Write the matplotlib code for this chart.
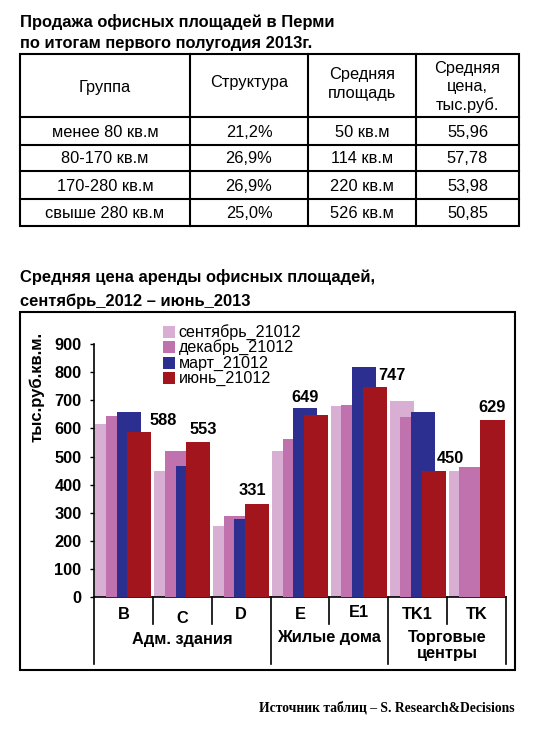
import numpy as np
import matplotlib
matplotlib.use("Agg")
import matplotlib.pyplot as plt
from matplotlib.patches import Rectangle

plt.rcParams['font.family'] = ['Liberation Sans', 'DejaVu Sans']

# ---------------- data ----------------
table_title = ["Продажа офисных площадей в Перми", "по итогам первого полугодия 2013г."]
table_headers = ["Группа", "Структура", "Средняя\nплощадь", "Средняя\nцена,\nтыс.руб."]
table_groups = ["менее 80 кв.м", "80-170 кв.м", "170-280 кв.м", "свыше 280 кв.м"]
table_structure = ["21,2%", "26,9%", "26,9%", "25,0%"]
table_area = ["50 кв.м", "114 кв.м", "220 кв.м", "526 кв.м"]
table_price = ["55,96", "57,78", "53,98", "50,85"]

chart_title = ["Средняя цена аренды офисных площадей,", "сентябрь_2012 – июнь_2013"]
categories = ["B", "C", "D", "E", "E1", "TK1", "TK"]
groups = ["Адм. здания", "Жилые дома", "Торговые\nцентры"]
series_labels = ["сентябрь_21012", "декабрь_21012", "март_21012", "июнь_21012"]
sept = [615, 450, 253, 520, 679, 698, 448]
dec = [645, 520, 288, 561, 682, 640, 463]
mar = [659, 465, 279, 673, 819, 660, np.nan]
jun = [588, 553, 331, 649, 747, 450, 629]
y_label = "тыс.руб.кв.м."
source = "Источник таблиц – S. Research&Decisions"

# ---------------- style / layout ----------------
colors = ["#D9AED3", "#BF72AD", "#2C2F8F", "#A3151C"]
W, H = 537, 735
fig = plt.figure(figsize=(W / 100, H / 100), dpi=100)

ov = fig.add_axes([0, 0, 1, 1])
ov.set_xlim(0, W)
ov.set_ylim(H, 0)
ov.axis("off")
ov.set_zorder(5)

LW = 1.5

# table title
for txt, yb in zip(table_title, [27, 48]):
    ov.text(20.5, yb, txt, fontsize=11.9, fontweight="bold", va="baseline", ha="left")

# table grid
col_x = [20, 190, 308, 416, 519]
row_y = [53.5, 117, 145, 171, 199, 226]
ov.add_patch(Rectangle((col_x[0], row_y[0]), col_x[-1] - col_x[0], row_y[-1] - row_y[0],
                       fill=False, lw=LW, ec="black"))
for xx in col_x[1:-1]:
    ov.plot([xx, xx], [row_y[0], row_y[-1]], color="black", lw=LW)
for yy in row_y[1:-1]:
    ov.plot([col_x[0], col_x[-1]], [yy, yy], color="black", lw=LW)

centers = [(col_x[i] + col_x[i + 1]) / 2 for i in range(4)]
header_baselines = [[92], [87], [79, 98], [73, 91, 110]]
for c, h, bl in zip(centers, table_headers, header_baselines):
    for line, yb in zip(h.split("\n"), bl):
        ov.text(c, yb, line, fontsize=11.8, ha="center", va="baseline")

row_baselines = [137, 163, 191, 218]
for r, yb in enumerate(row_baselines):
    for c, col in zip(centers, [table_groups, table_structure, table_area, table_price]):
        ov.text(c, yb, col[r], fontsize=11.8, ha="center", va="baseline")

# chart title
for txt, yb in zip(chart_title, [282, 305.5]):
    ov.text(20.5, yb, txt, fontsize=11.9, fontweight="bold", va="baseline", ha="left")

# chart frame
ov.add_patch(Rectangle((20, 311.5), 495, 358, fill=False, lw=LW, ec="black"))

# y label
ov.text(37, 387, y_label, fontsize=12, fontweight="bold", rotation=90, ha="center", va="center")

# legend (manual)
leg_y = [332, 347, 362.5, 378]
for lab, col, yc in zip(series_labels, colors, leg_y):
    ov.add_patch(Rectangle((163, yc - 6), 12, 12, color=col, lw=0))
    ov.text(178.5, yc + 5, lab, fontsize=11.6, ha="left", va="baseline")

# source
ov.text(515, 711.5, source, fontsize=9.8, fontweight="bold", family="Liberation Serif",
        ha="right", va="baseline")

# ---------------- bar chart ----------------
x0, x1 = 94, 506
y0, y1 = 596.8, 344.3
ax = fig.add_axes([x0 / W, (H - y0) / H, (x1 - x0) / W, (y0 - y1) / H])
ax.patch.set_alpha(0)
n = len(categories)
x = np.arange(n)
off, bw = 0.18, 0.41
for k, (vals, col, lab) in enumerate(zip([sept, dec, mar, jun], colors, series_labels)):
    ax.bar(x + (k - 1.5) * off, vals, width=bw, color=col, label=lab, zorder=2 + k, linewidth=0)

ax.set_xlim(-0.5, n - 0.5)
ax.set_ylim(0, 900)
ax.set_yticks(np.arange(0, 901, 100))
ax.tick_params(axis="y", direction="out", length=3, width=1, pad=6, labelsize=11.8)
for t in ax.get_yticklabels():
    t.set_fontweight("bold")
ax.set_xticks([])
for s in ["top", "right"]:
    ax.spines[s].set_visible(False)
ax.spines["left"].set_linewidth(1.2)
ax.spines["bottom"].set_linewidth(1.2)

# value labels for June
label_dx = [0.41, 0.085, -0.085, -0.19, 0.30, 0.28, 0.0]
label_dy = [11, 12, 13, 17, 12, 12, 13]
for i, v in enumerate(jun):
    ax.annotate(f"{v}", xy=(i + 1.5 * off + label_dx[i], v), xytext=(0, label_dy[i]),
                textcoords="offset pixels", ha="center", va="center",
                fontsize=11.8, fontweight="bold", zorder=10)

# category labels and separators
xt = ax.get_xaxis_transform()
ax_h = y0 - y1
cat_dy = [-22.5, -26.5, -22.5, -22.5, -20.5, -22.5, -22.5]
for i, c in enumerate(categories):
    ax.annotate(c, xy=(i, 0), xycoords=xt, xytext=(0, cat_dy[i]), textcoords="offset pixels",
                ha="center", va="baseline", fontsize=11.8, fontweight="bold", annotation_clip=False)
for b in [0.5, 1.5, 3.5, 5.5]:
    ax.plot([b, b], [0, -27 / ax_h], transform=xt, color="black", lw=1.2, clip_on=False)
for b in [-0.5, 2.5, 4.5, 6.5]:
    ax.plot([b, b], [0, -67 / ax_h], transform=xt, color="black", lw=1.2, clip_on=False)

group_centers = [1.0, 3.5, 5.5]
group_baselines = [[-47], [-45.5], [-45.5, -61]]
for g, gc, bls in zip(groups, group_centers, group_baselines):
    for line, bl in zip(g.split("\n"), bls):
        ax.annotate(line, xy=(gc, 0), xycoords=xt, xytext=(0, bl), textcoords="offset pixels",
                    ha="center", va="baseline", fontsize=11.8, fontweight="bold",
                    annotation_clip=False)

fig.savefig("out.png", dpi=100)
